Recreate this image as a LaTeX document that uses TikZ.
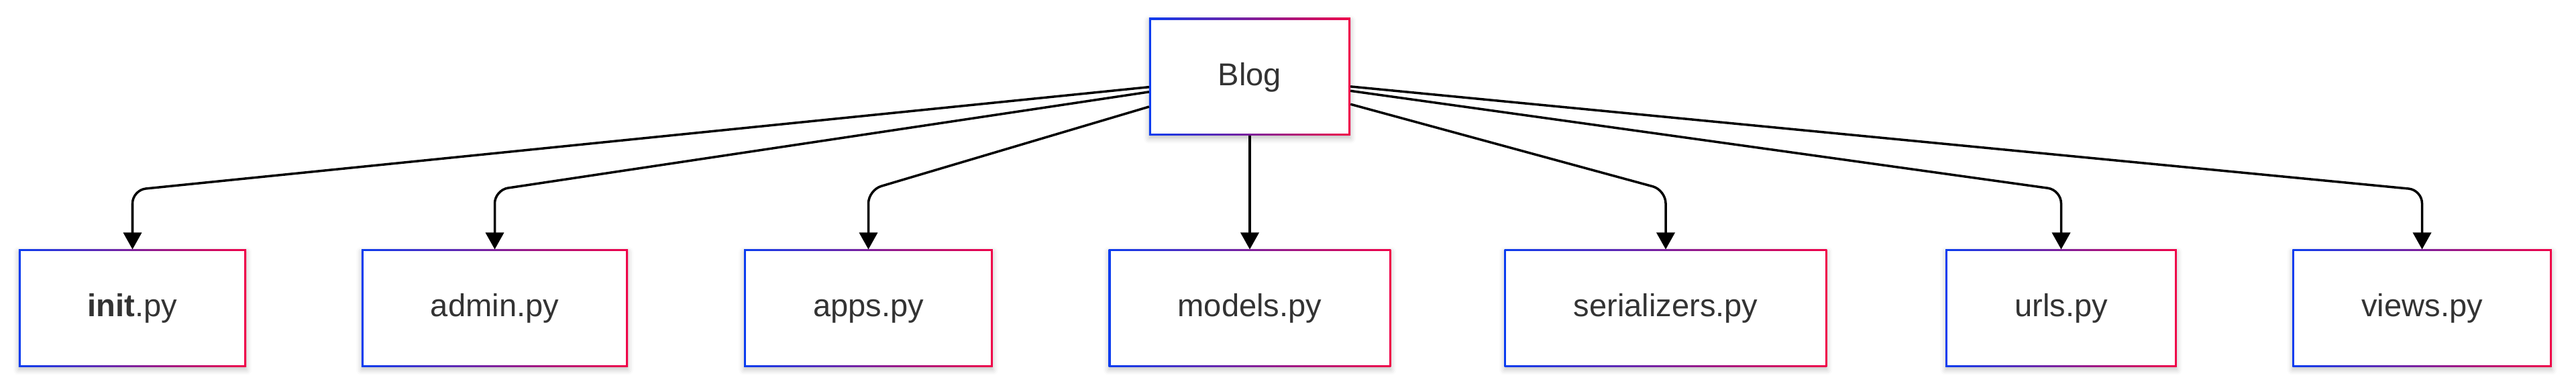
\documentclass[tikz,border=0pt]{standalone}
\usepackage{fontspec}
\setmainfont{Liberation Sans}
\usepackage{tikz}
\usetikzlibrary{arrows.meta,shadows.blur}
\definecolor{edgeblue}{HTML}{0A3CF0}
\definecolor{edgered}{HTML}{F00048}
\definecolor{textgray}{HTML}{333333}

\begin{document}
\begin{tikzpicture}[
  box/.style={
    left color=edgeblue,
    right color=edgered,
    path picture={\fill[white] ([shift={(0.8pt,-0.8pt)}]path picture bounding box.north west) rectangle ([shift={(-0.8pt,0.8pt)}]path picture bounding box.south east);},
    blur shadow={shadow xshift=0pt, shadow yshift=-0.04cm, shadow blur radius=0.08cm, shadow opacity=25},
    inner xsep=1.03cm,
    inner ysep=0pt,
    minimum height=1.75cm,
    text height=0.85em,
    text depth=0.11em,
    outer sep=0pt,
    text=textgray,
    font=\fontsize{13.4}{16}\selectfont
  },
  arr/.style={-{Triangle[length=2.5mm,width=2.7mm]}, line width=1pt, rounded corners=2mm}
]
\useasboundingbox (0,0) rectangle (38.4,5.75);

\node[box] (blog) at (18.63, 4.605) {Blog};

\node[box] (init) at (1.975, 1.16) {\textbf{init}.py};
\node[box] (admin) at (7.375, 1.16) {admin.py};
\node[box] (apps) at (12.945, 1.16) {apps.py};
\node[box] (models) at (18.63, 1.16) {models.py};
\node[box] (ser) at (24.83, 1.16) {serializers.py};
\node[box] (urls) at (30.725, 1.16) {urls.py};
\node[box] (views) at (36.105, 1.16) {views.py};

\coordinate (bend) at (0, 2.92);

\draw[arr] (blog) -- (init |- bend) -- (init);
\draw[arr] (blog) -- (admin |- bend) -- (admin);
\draw[arr] (blog) -- (apps |- bend) -- (apps);
\draw[arr] (blog) -- (models);
\draw[arr] (blog) -- (ser |- bend) -- (ser);
\draw[arr] (blog) -- (urls |- bend) -- (urls);
\draw[arr] (blog) -- (views |- bend) -- (views);

\end{tikzpicture}
\end{document}
